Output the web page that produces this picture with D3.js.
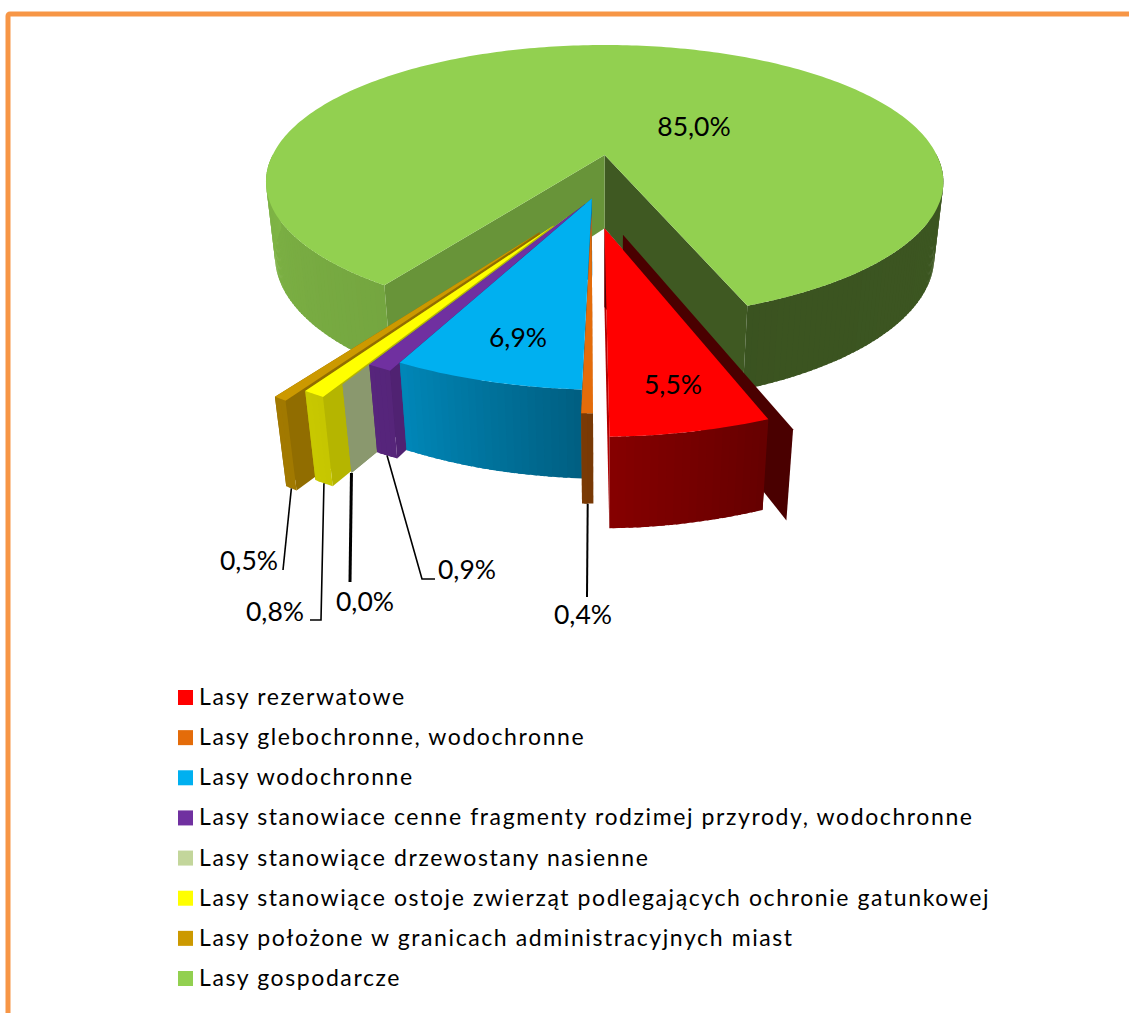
<!DOCTYPE html>
<html><head><meta charset="utf-8">
<script src="https://cdn.jsdelivr.net/npm/d3@7"></script>
<style>html,body{margin:0;padding:0;background:#fff;overflow:hidden}svg{display:block}text{font-family:Lato,sans-serif;fill:#000}</style>
</head><body><div id="c"></div>
<script>
const categories=["Lasy rezerwatowe","Lasy glebochronne, wodochronne","Lasy wodochronne","Lasy stanowiace cenne fragmenty rodzimej przyrody, wodochronne","Lasy stanowiące drzewostany nasienne","Lasy stanowiące ostoje zwierząt podlegających ochronie gatunkowej","Lasy położone w granicach administracyjnych miast","Lasy gospodarcze"];
const values=[5.5,0.4,6.9,0.9,0.0,0.8,0.5,85.0];
const valueLabels=["5,5%","0,4%","6,9%","0,9%","0,0%","0,8%","0,5%","85,0%"];
const colors=["#ff0000","#e46c0a","#00b0f0","#7030a0","#c3d69b","#ffff00","#cc9900","#92d050"];
const explosion=[0.197,0.10,0,0.04,0.14,0.205,0.26,0.317];
const paintOrder=[7,6,5,4,3,2,1,0];
const startDeg=159.6;

const W=1129,H=1013;
const svg=d3.select("#c").append("svg").attr("width",W).attr("height",H);
svg.append("rect").attr("x",8).attr("y",14).attr("width",W+40).attr("height",H+40).attr("rx",2)
  .attr("fill","none").attr("stroke","#f79646").attr("stroke-width",5);

// Perspective projection of the pie plane (u right, v towards viewer, z downward)
const proj={cx:604.5,cy:155,R:332,B:130.4,a:0.185,c:0.0265,D:75.3,u0:-0.036,v0:0.315};
function project(u,v,z){
  const uu=u+proj.u0,vv=v+proj.v0,w=1-proj.a*vv+proj.c*z;
  return [proj.cx+proj.R*uu/w, proj.cy+(proj.B*vv+proj.D*z)/w];
}
const pie=d3.pie().value(d=>d).sort(null)
  .startAngle(startDeg*Math.PI/180).endAngle((startDeg+360)*Math.PI/180);
const arcs=pie(values);
const line=d3.line();
const GREEN=7;
const rimScale=d3.scaleLinear().domain([160,180,205,215]).range([1.03,1.035,1.016,1.017]).clamp(true);
const greenRim=d3.scaleLinear().domain([90,160,214,270]).range([1,1.016,1.012,1]).clamp(true);
function polar(i,ang,r,e,mid){
  const deg=(ang*180/Math.PI)%360;
  const k=i===GREEN?greenRim(deg):rimScale(deg);
  return [e*Math.sin(mid)+k*r*Math.sin(ang), -e*Math.cos(mid)-k*r*Math.cos(ang)];
}
const outerShade=d3.scaleLinear().domain([90,160,180,205,215,270]).range([.42,.40,.53,.76,.8,.87]).clamp(true);
const dim=(col,k)=>{const c=d3.rgb(col);return d3.rgb(c.r*k,c.g*k,c.b*k).formatHex();};
const pieG=svg.append("g");

function wall(a,b,fill){
  pieG.append("path").attr("d",line([project(a[0],a[1],0),project(b[0],b[1],0),project(b[0],b[1],1),project(a[0],a[1],1)])+"Z")
    .attr("fill",fill);
}
paintOrder.forEach(i=>{
  const s=arcs[i],col=colors[i],e=explosion[i],mid=(s.startAngle+s.endAngle)/2;
  const apex=polar(i,0,0,e,mid),A0=polar(i,s.startAngle,1,e,mid),A1=polar(i,s.endAngle,1,e,mid);
  if(i===0){ // detached dark inner wall of the first slice
    const off=[0.05,0.04];
    wall([apex[0]+off[0],apex[1]+off[1]],[A0[0]+off[0],A0[1]+off[1]],dim(col,0.29));
  }
  wall(apex,A1,dim(col,i===GREEN?0.43:0.70));
  wall(apex,A0,dim(col,i===0?0.30:0.71));
  const n=Math.max(2,Math.ceil((s.endAngle-s.startAngle)*180/Math.PI));
  const angs=d3.range(n+1).map(k=>s.startAngle+(s.endAngle-s.startAngle)*k/n);
  d3.pairs(angs).forEach(([p,q],k)=>{
    const deg=((p+q)/2*180/Math.PI)%360;
    const vis=deg>=90&&deg<=270;
    // each strip runs under the next one so that no seams show
    const q2=k<n-1?q+(q-p)*0.6:q;
    if(s.endAngle>s.startAngle&&vis) wall(polar(i,p,1,e,mid),polar(i,q2,1,e,mid),dim(col,outerShade(deg)));
  });
  if(s.endAngle>s.startAngle){
    const pts=[project(apex[0],apex[1],0)].concat(angs.map(t=>{const p=polar(i,t,1,e,mid);return project(p[0],p[1],0);}));
    pieG.append("path").attr("d",line(pts)+"Z").attr("fill",col);
  }
});

// Leader lines: start at slice's lower outer rim, then layout bends
const leaderBends={1:[[587,597]],3:[[422,579],[435,579]],4:[[350,582]],5:[[321,620],[310,620]],6:[[283,570]]};
const leaderWidth={1:2,3:1.6,4:3,5:1.6,6:1.6};
Object.keys(leaderBends).forEach(k=>{
  const i=+k,s=arcs[i],mid=(s.startAngle+s.endAngle)/2,p=polar(i,mid,1,explosion[i],mid);
  svg.append("path").attr("d",line([project(p[0],p[1],1)].concat(leaderBends[i])))
    .attr("fill","none").attr("stroke","#000").attr("stroke-width",leaderWidth[i]);
});

const labelPos=[[673,385],[583,615],[518,338],[467,570],[365,602],[275,612],[249,561],[694,127]];
svg.selectAll("text.v").data(valueLabels).join("text").attr("class","v")
  .attr("x",(d,i)=>labelPos[i][0]).attr("y",(d,i)=>labelPos[i][1]).attr("dy","0.35em")
  .attr("text-anchor","middle").style("font-size","26.5px").text(d=>d);

const legendY=d3.scalePoint().domain(d3.range(categories.length)).range([697,978]);
const lg=svg.selectAll("g.l").data(categories).join("g").attr("class","l")
  .attr("transform",(d,i)=>`translate(178,${legendY(i)})`);
lg.append("rect").attr("y",-7).attr("width",15).attr("height",15).attr("fill",(d,i)=>colors[i]);
lg.append("text").attr("x",21).attr("dy","0.35em").style("font-size","23px").style("letter-spacing","1.6px").text(d=>d);
</script></body></html>
